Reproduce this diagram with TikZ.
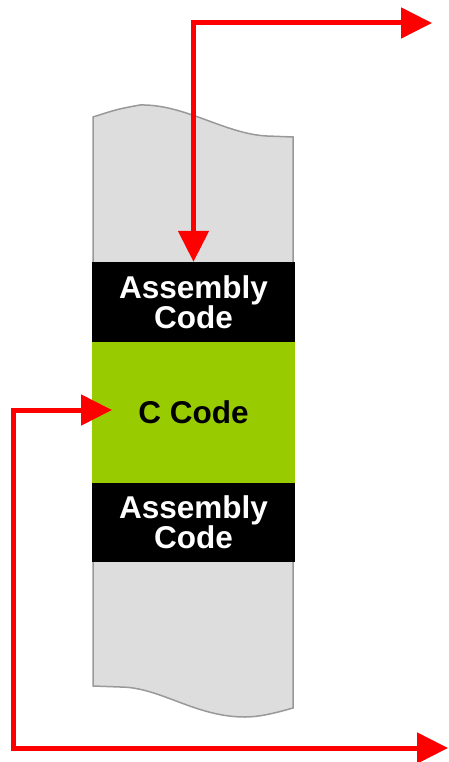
\documentclass[tikz,border=0pt]{standalone}
\usepackage{fontspec}
\setmainfont{Liberation Sans}
\usetikzlibrary{arrows.meta}

\definecolor{stripgray}{HTML}{DDDDDD}
\definecolor{edgegray}{HTML}{999999}
\definecolor{cgreen}{HTML}{99CC00}

\begin{document}
\begin{tikzpicture}[x=1pt, y=-1pt,
    block/.style={minimum width=203pt, inner sep=0pt, align=center,
        font=\fontsize{31.5}{30}\selectfont\bfseries},
    flow/.style={draw=red, line width=5pt,
        arrows={Triangle[length=31pt, width=30pt]-Triangle[length=31pt, width=30pt]}}]
    \useasboundingbox (0,0) rectangle (449,762);

    % Paper strip
    \draw[fill=stripgray, draw=edgegray, line width=1.5pt]
        (93,117) .. controls (118,109) .. (140,105)
        .. controls (185,104) and (225,134) .. (267,136) -- (293,137)
        -- (293,708) .. controls (272,714) and (258,717) .. (245,717)
        .. controls (195,717) and (160,687) .. (120,687) -- (93,686) -- cycle;

    % Code blocks
    \node[block, fill=black, text=white, minimum height=80pt] (asm1) at (193.5,302) {Assembly\\Code};
    \node[block, fill=cgreen, text=black, minimum height=141pt] (ccode) at (193.5,412.5) {C Code};
    \node[block, fill=black, text=white, minimum height=79pt] (asm2) at (193.5,522.5) {Assembly\\Code};

    % Red arrows
    \coordinate (outtop) at (432,23);
    \coordinate (centry) at (112,410);
    \coordinate (corner) at (13,748);
    \coordinate (outbot) at (448,748);
    \draw[flow] (outtop) -| (asm1.north);
    \draw[flow] (centry) -| (corner) -- (outbot);

\end{tikzpicture}
\end{document}
